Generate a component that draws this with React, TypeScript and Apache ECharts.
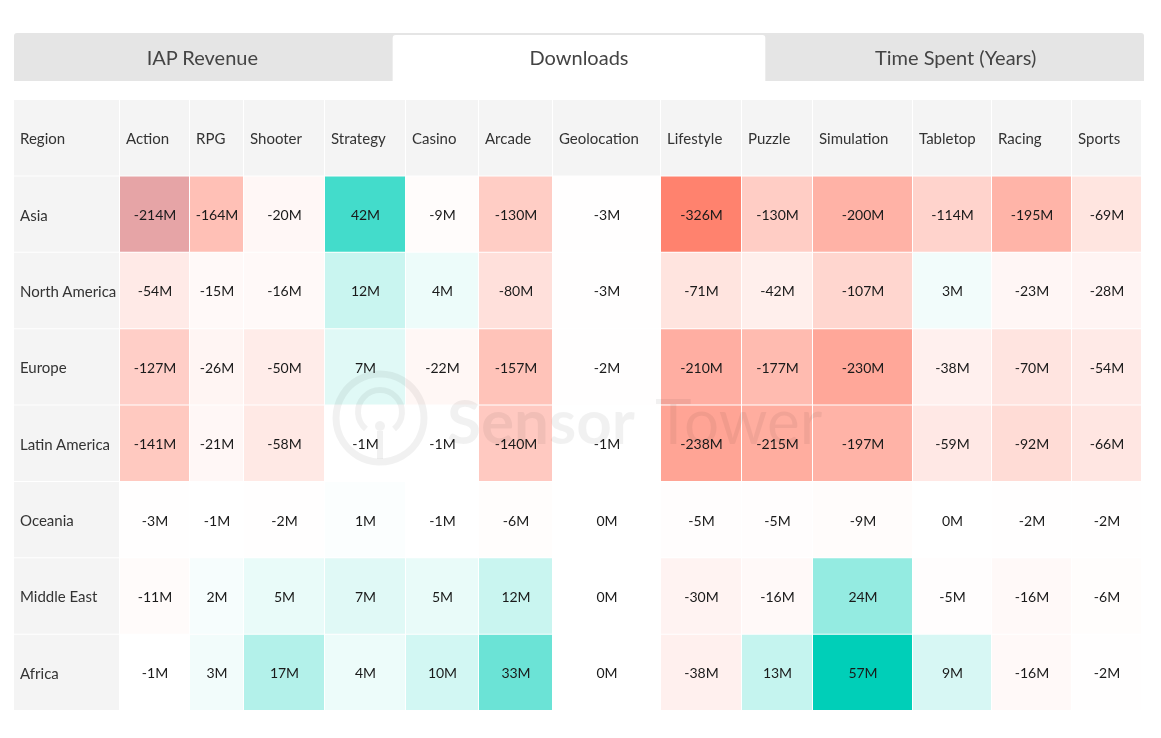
import React, { useEffect, useRef } from "react";
import * as echarts from "echarts";

const TABS = ["IAP Revenue", "Downloads", "Time Spent (Years)"];
const ACTIVE_TAB = 1;
const REGIONS = ["Asia", "North America", "Europe", "Latin America", "Oceania", "Middle East", "Africa"];
const GENRES = ["Action", "RPG", "Shooter", "Strategy", "Casino", "Arcade", "Geolocation", "Lifestyle", "Puzzle", "Simulation", "Tabletop", "Racing", "Sports"];
const ASIA = [-214, -164, -20, 42, -9, -130, -3, -326, -130, -200, -114, -195, -69];
const NORTH_AMERICA = [-54, -15, -16, 12, 4, -80, -3, -71, -42, -107, 3, -23, -28];
const EUROPE = [-127, -26, -50, 7, -22, -157, -2, -210, -177, -230, -38, -70, -54];
const LATIN_AMERICA = [-141, -21, -58, -1, -1, -140, -1, -238, -215, -197, -59, -92, -66];
const OCEANIA = [-3, -1, -2, 1, -1, -6, 0, -5, -5, -9, 0, -2, -2];
const MIDDLE_EAST = [-11, 2, 5, 7, 5, 12, 0, -30, -16, 24, -5, -16, -6];
const AFRICA = [-1, 3, 17, 4, 10, 33, 0, -38, 13, 57, 9, -16, -2];
const VALUES = [ASIA, NORTH_AMERICA, EUROPE, LATIN_AMERICA, OCEANIA, MIDDLE_EAST, AFRICA];
const HIGHLIGHTED = { region: "Asia", genre: "Action" };
const WATERMARK = ["Sensor", "Tower"];

// layout (column widths in px, first is the region column)
const COL_WIDTHS = [106, 70, 54, 81, 81, 73, 74, 108, 81, 71, 100, 79, 80, 70];
const EDGES: number[] = [0];
COL_WIDTHS.forEach((w) => EDGES.push(EDGES[EDGES.length - 1] + w));
const TOTAL = EDGES[EDGES.length - 1];

const NEG_COLOR = [255, 130, 110];
const POS_COLOR = [0, 207, 184];
const HIGHLIGHT_COLOR = "#e6a4a6";
const HEADER_BG = "#f4f4f4";
const FONT = "Lato, 'Noto Sans', sans-serif";
const WM = "rgba(0,0,0,0.055)";

const allVals = VALUES.flat();
const MIN_V = Math.min(...allVals);
const MAX_V = Math.max(...allVals);

function colorFor(v: number) {
  let t = 0;
  let target = NEG_COLOR;
  if (v < 0) t = v / MIN_V;
  else if (v > 0) {
    t = v / MAX_V;
    target = POS_COLOR;
  }
  const c = [0, 1, 2].map((i) => Math.round(255 + (target[i] - 255) * t));
  return `rgb(${c[0]},${c[1]},${c[2]})`;
}

export default function App() {
  const ref = useRef<HTMLDivElement>(null);
  useEffect(() => {
    if (!ref.current) return;
    const chart = echarts.init(ref.current, null, { renderer: "svg" });
    const data: any[] = [];
    for (let r = 0; r <= REGIONS.length; r++) {
      for (let c = 0; c <= GENRES.length; c++) {
        const v = r > 0 && c > 0 ? VALUES[r - 1][c - 1] : 0;
        data.push([(EDGES[c] + EDGES[c + 1]) / 2, r, c, v]);
      }
    }
    const tabW = 1130 / TABS.length;
    const graphic: any[] = [
      { type: "rect", x: 14, y: 33, shape: { width: 1130, height: 48, r: [3, 3, 0, 0] }, style: { fill: "#e5e5e5" }, z: 1 },
      { type: "rect", x: 14 + tabW * ACTIVE_TAB + 2, y: 35, shape: { width: tabW - 4, height: 46, r: [3, 3, 0, 0] }, style: { fill: "#ffffff" }, z: 2 },
      ...TABS.map((t, i) => ({
        type: "text",
        x: 14 + tabW * i + tabW / 2,
        y: 57,
        z: 3,
        style: { text: t, fill: "#444", font: `20px ${FONT}`, align: "center", verticalAlign: "middle" },
      })),
      { type: "circle", z: 100, silent: true, shape: { cx: 380, cy: 418, r: 44 }, style: { fill: "none", stroke: WM, lineWidth: 7 } },
      { type: "arc", z: 100, silent: true, shape: { cx: 380, cy: 412, r: 22, startAngle: Math.PI * 0.72, endAngle: Math.PI * 2.28 }, style: { fill: "none", stroke: WM, lineWidth: 6 } },
      { type: "circle", z: 100, silent: true, shape: { cx: 380, cy: 426, r: 5 }, style: { fill: WM } },
      { type: "line", z: 100, silent: true, shape: { x1: 380, y1: 431, x2: 380, y2: 459 }, style: { stroke: WM, lineWidth: 6 } },
      { type: "text", z: 100, silent: true, x: 447, y: 420, style: { text: WATERMARK[0], fill: WM, font: `bold 62px ${FONT}`, verticalAlign: "middle" } },
      { type: "text", z: 100, silent: true, x: 655, y: 420, style: { text: WATERMARK[1], fill: WM, font: `62px ${FONT}`, verticalAlign: "middle" } },
    ];
    chart.setOption({
      animation: false,
      grid: { left: 14, right: 1161 - 14 - TOTAL, top: 100, bottom: 27 },
      xAxis: { type: "value", min: 0, max: TOTAL, show: false },
      yAxis: { type: "category", data: ["Region", ...REGIONS], inverse: true, show: false },
      graphic,
      series: [
        {
          type: "custom",
          data,
          clip: false,
          z: 2,
          renderItem: (params: any, api: any) => {
            const r = api.value(1);
            const c = api.value(2);
            const v = api.value(3);
            const p0 = api.coord([EDGES[c], r]);
            const p1 = api.coord([EDGES[c + 1], r]);
            const h = api.size([0, 1])[1];
            const x = p0[0];
            const y = p0[1] - h / 2;
            const w = p1[0] - p0[0];
            let fill = HEADER_BG;
            let label = "";
            let left = false;
            if (r === 0) {
              label = c === 0 ? "Region" : GENRES[c - 1];
              left = true;
            } else if (c === 0) {
              label = REGIONS[r - 1];
              left = true;
            } else {
              label = `${v}M`;
              fill =
                REGIONS[r - 1] === HIGHLIGHTED.region && GENRES[c - 1] === HIGHLIGHTED.genre
                  ? HIGHLIGHT_COLOR
                  : colorFor(v);
            }
            return {
              type: "group",
              children: [
                { type: "rect", shape: { x, y, width: w - 1, height: h - 1 }, style: { fill } },
                {
                  type: "text",
                  style: {
                    text: label,
                    x: left ? x + 6 : x + w / 2,
                    y: y + h / 2,
                    align: left ? "left" : "center",
                    verticalAlign: "middle",
                    fill: left ? "#333" : "#1a1a1a",
                    font: `${left ? 15 : 14}px ${FONT}`,
                  },
                },
              ],
            };
          },
        },
      ],
    });
    return () => chart.dispose();
  }, []);
  return <div ref={ref} style={{ position: "fixed", left: 0, top: 0, width: 1161, height: 738 }} />;
}
